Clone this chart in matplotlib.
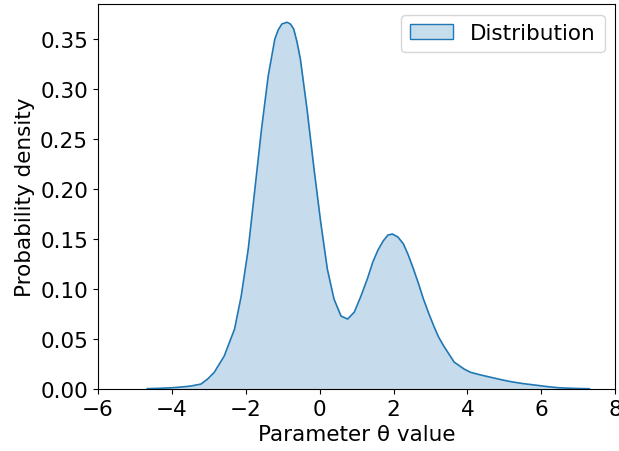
import numpy as np
import matplotlib
matplotlib.use('Agg')
import matplotlib.pyplot as plt

# Density curve
theta = [-4.66, -4.3, -4.0, -3.75, -3.49, -3.21, -3.03, -2.85, -2.58, -2.30,
         -2.12, -1.93, -1.75, -1.57, -1.39, -1.21, -1.12, -1.02, -0.88, -0.79,
         -0.70, -0.61, -0.52, -0.34, -0.15, 0.03, 0.21, 0.39, 0.58, 0.76,
         0.94, 1.12, 1.30, 1.44, 1.58, 1.72, 1.85, 1.97, 2.12, 2.27,
         2.40, 2.54, 2.68, 2.81, 2.95, 3.09, 3.22, 3.36, 3.50, 3.64,
         3.91, 4.09, 4.37, 4.64, 4.90, 5.19, 5.50, 5.83, 6.15, 6.47,
         6.85, 7.30]
density = [0.0004, 0.0008, 0.0013, 0.002, 0.003, 0.005, 0.010, 0.0167, 0.033, 0.060,
           0.093, 0.140, 0.200, 0.260, 0.313, 0.350, 0.359, 0.365, 0.3667, 0.365,
           0.360, 0.347, 0.330, 0.280, 0.220, 0.167, 0.120, 0.090, 0.073, 0.070,
           0.077, 0.093, 0.111, 0.127, 0.139, 0.148, 0.154, 0.155, 0.152, 0.145,
           0.134, 0.120, 0.105, 0.090, 0.076, 0.063, 0.052, 0.043, 0.035, 0.027,
           0.020, 0.0167, 0.014, 0.0117, 0.0095, 0.0073, 0.0055, 0.004, 0.0025, 0.0013,
           0.0007, 0.0003]

plt.rcParams['font.size'] = 15.5

fig = plt.figure(figsize=(6.19, 4.52), dpi=100)
ax = fig.add_axes([0.158, 0.137, 0.836, 0.852])

ax.fill_between(theta, density, color='tab:blue', alpha=0.25, linewidth=0)
ax.plot(theta, density, color='tab:blue', linewidth=1.2)
# proxy patch for the legend
ax.fill([], [], facecolor=(0.12, 0.47, 0.71, 0.25), edgecolor='tab:blue', label='Distribution')

ax.set_xlim(-6, 8)
ax.set_ylim(0, 0.385)
ax.set_xticks(np.arange(-6, 9, 2))
ax.set_yticks(np.arange(0, 0.36, 0.05))
ax.set_xlabel('Parameter θ value')
ax.set_ylabel('Probability density')
ax.legend(loc='upper right')

fig.savefig('out.png', dpi=100)
